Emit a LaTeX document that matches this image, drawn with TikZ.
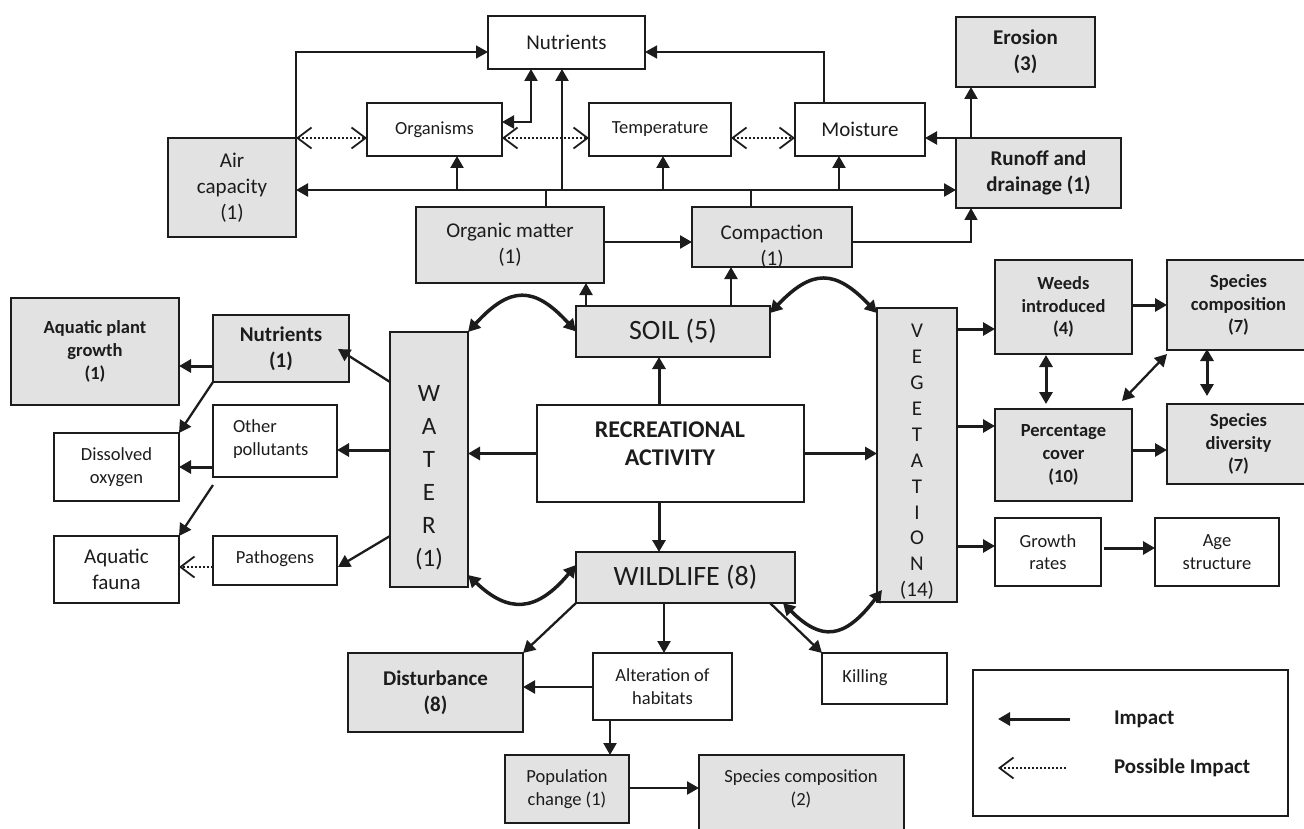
\documentclass[tikz,border=0pt]{standalone}
\usepackage{fontspec}
\setmainfont{Carlito}
\usetikzlibrary{arrows.meta,calc}
\definecolor{gfill}{RGB}{226,226,226}
\definecolor{ink}{RGB}{28,28,28}
\newcommand\myfs[2]{\fontsize{#1}{#2}\selectfont}
\begin{document}
\begin{tikzpicture}[x=1pt,y=-1pt,
  box/.style={draw=ink, line width=1.8pt, inner sep=0pt, outer sep=0pt, align=center, anchor=north west, text=ink},
  gbox/.style={box, fill=gfill},
  txt/.style={inner sep=0pt, outer sep=0pt, align=center, text=ink},
  fa/.style={font=\myfs{18.5}{22.7}},
  fb/.style={font=\myfs{21}{26}},
  fab/.style={font=\myfs{18.5}{22.7}\bfseries},
  fbb/.style={font=\myfs{21}{26}\bfseries},
  thn/.style={draw=ink, line width=1.6pt},
  mid/.style={draw=ink, line width=2.3pt},
  thk/.style={draw=ink, line width=3pt},
  crv/.style={draw=ink, line width=3.5pt},
  dotln/.style={draw=ink, line width=2pt, dash pattern=on 2pt off 2pt},
  mytri/.tip={Triangle[length=12pt,width=13pt]},
  mybarb/.tip={Straight Barb[length=14pt,width=21pt,line width=1.8pt]},
]
\useasboundingbox (0,0) rectangle (1304,829);
\clip (0,0) rectangle (1304,829);

% ---------- top group ----------
\node[box,fb,minimum width=157pt,minimum height=53pt] (nutr) at (488,16) {Nutrients};
\node[box,fa,minimum width=135pt,minimum height=53pt] (org) at (367,103) {Organisms};
\node[box,fa,minimum width=142pt,minimum height=53pt] (temp) at (589,103) {Temperature};
\node[box,fb,minimum width=130pt,minimum height=53pt] (moist) at (795,103) {Moisture};
\node[gbox,fbb,minimum width=139pt,minimum height=70pt] (eros) at (956,17) {Erosion\\(3)};
\node[gbox,fbb,minimum width=165pt,minimum height=70pt] (runoff) at (956,138) {Runoff and\\drainage (1)};
\node[gbox,fb,minimum width=128pt,minimum height=99pt] (air) at (168,138) {Air\\capacity\\(1)};
\node[gbox,fb,minimum width=188pt,minimum height=76pt] (orgm) at (416,207) {Organic matter\\(1)};
\node[gbox,minimum width=160pt,minimum height=60pt] (comp) at (692,207) {};
\node[txt,fb] (compt) at (772,247) {Compaction\\(1)};

% ---------- centre ----------
\node[gbox,font=\myfs{28}{32},minimum width=194pt,minimum height=51pt] (soil) at (576,306) {SOIL (5)};
\node[box,minimum width=267pt,minimum height=97pt] (ra) at (537,405) {};
\node[txt,font=\myfs{24}{28}\bfseries] (rat) at (670,444) {RECREATIONAL\\ACTIVITY};
\node[gbox,minimum width=78pt,minimum height=255pt] (water) at (390,332) {};
\node[txt,font=\myfs{25}{33}] (watert) at (429,478) {W\\A\\T\\E\\R\\(1)};
\node[gbox,font=\myfs{28}{32},minimum width=219pt,minimum height=51pt] (wild) at (576,552) {WILDLIFE (8)};
\node[gbox,minimum width=80pt,minimum height=294pt] (veg) at (877,308) {};
\node[txt,font=\myfs{21}{25.9}] (vegt) at (917,462) {V\\E\\G\\E\\T\\A\\T\\I\\O\\N\\(14)};

% ---------- right ----------
\node[gbox,fab,minimum width=137pt,minimum height=94pt] (weeds) at (995,260) {Weeds\\introduced\\(4)};
\node[gbox,fab,minimum width=143pt,minimum height=90pt] (spc7) at (1167,260) {Species\\composition\\(7)};
\node[gbox,fab,minimum width=137pt,minimum height=92pt] (pcov) at (995,409) {Percentage\\cover\\(10)};
\node[gbox,fab,minimum width=143pt,minimum height=80pt] (spd) at (1167,404) {Species\\diversity\\(7)};
\node[box,fa,minimum width=106pt,minimum height=68pt] (grow) at (995,518) {Growth\\rates};
\node[box,fa,minimum width=124pt,minimum height=68pt] (age) at (1155,518) {Age\\structure};

% ---------- left ----------
\node[gbox,fab,minimum width=168pt,minimum height=107pt] (apg) at (11,298) {Aquatic plant\\growth\\(1)};
\node[gbox,fbb,minimum width=136pt,minimum height=67pt] (wnut) at (213,315) {Nutrients\\(1)};
\node[box,fa,minimum width=125pt,minimum height=68pt] (dox) at (54,433) {Dissolved\\oxygen};
\node[box,minimum width=124pt,minimum height=72pt] (oth) at (213,405) {};
\node[txt,fa,align=left,anchor=west] (otht) at (233,439) {Other\\pollutants};
\node[box,fb,minimum width=125pt,minimum height=67pt] (fauna) at (54,536) {Aquatic\\fauna};
\node[box,minimum width=124pt,minimum height=49pt] (path) at (213,536) {};
\node[txt,fa] (patht) at (275,559) {Pathogens};

% ---------- bottom ----------
\node[gbox,fbb,minimum width=175pt,minimum height=79pt] (dist) at (348,653) {Disturbance\\(8)};
\node[box,fa,minimum width=139pt,minimum height=67pt] (alt) at (593,653) {Alteration of\\habitats};
\node[box,minimum width=125pt,minimum height=51pt] (kill) at (822,653) {};
\node[txt,fa] (killt) at (865,678) {Killing};
\node[gbox,fa,minimum width=124pt,minimum height=68pt] (pop) at (505,755) {Population\\change (1)};
\node[gbox,minimum width=205pt,minimum height=90pt] (spc2) at (699,755) {};
\node[txt,fa] (spc2t) at (801,789) {Species composition\\(2)};

% ---------- legend ----------
\node[box,minimum width=315pt,minimum height=146pt] (legend) at (973,670) {};
\node[txt,fbb,anchor=west] (limp) at (1114,719) {Impact};
\node[txt,fbb,anchor=west] (lpos) at (1114,768) {Possible Impact};
\coordinate (la1) at (1070,719);
\coordinate (la2) at (998,719);
\coordinate (lb1) at (1066,768);
\coordinate (lb2) at (998,768);
\draw[thk,-mytri] (la1) -- (la2);
\draw[dotln,-mybarb] (lb1) -- (lb2);

% ---------- top connectors ----------
\coordinate (yA) at (0,52);
\coordinate (bus) at (0,190);
\draw[thn,-mytri] (air.north east) |- (nutr.west |- yA);
\draw[thn,-mytri] ($(moist.north west)+(29,0)$) |- (nutr.east |- yA);
\draw[mid,mytri-mytri] ($(org.north east)+(0,19)$) -| ($(nutr.south west)+(43,0)$);
\draw[mid,mytri-mytri] (air.east |- bus) -- (runoff.west |- bus);
\draw[thn] ($(orgm.north west)+(130,0)$) -- ++(0,-17);
\draw[thn] ($(comp.north west)+(59,0)$) -- ++(0,-17);
\draw[mid,-mytri] ($(org.south west)+(90,34)$) -- ($(org.south west)+(90,0)$);
\draw[mid,-mytri] ($(nutr.south west)+(74,121)$) -- ($(nutr.south west)+(74,0)$);
\draw[mid,-mytri] ($(temp.south west)+(74,34)$) -- ($(temp.south west)+(74,0)$);
\draw[mid,-mytri] ($(moist.south west)+(44,34)$) -- ($(moist.south west)+(44,0)$);
\draw[dotln,mybarb-mybarb] (air.north east) -- (org.west |- air.north east);
\draw[dotln,mybarb-mybarb] ($(org.north east)+(0,35)$) -- ($(temp.north west)+(0,35)$);
\draw[dotln,mybarb-mybarb] ($(temp.north east)+(0,35)$) -- ($(moist.north west)+(0,35)$);
\draw[mid,-mytri] (runoff.north west) -- (moist.east |- runoff.north west);
\draw[mid,-mytri] ($(runoff.north west)+(15,0)$) -- ($(eros.south west)+(15,0)$);
\draw[mid,-mytri] ($(orgm.north east)+(0,35)$) -- ($(comp.north west)+(0,35)$);
\draw[thn,-mytri] ($(comp.north east)+(0,35)$) -| ($(runoff.south west)+(15,0)$);
\draw[mid,-mytri] ($(soil.north west)+(10,0)$) -- ($(orgm.south west)+(170,0)$);
\draw[mid,-mytri] ($(soil.north west)+(155,0)$) -- ($(comp.south west)+(39,0)$);

% ---------- curved two-way arrows ----------
\draw[crv,mytri-mytri] (water.north east) .. controls +(42,-46) and +(-42,-46) .. (soil.west);
\draw[crv,mytri-mytri] ($(soil.north east)+(0,7)$) .. controls +(42,-44) and +(-42,-44) .. ($(veg.north west)+(0,5)$);
\draw[crv,mytri-mytri] ($(water.south east)+(0,-12)$) .. controls +(40,38) and +(-40,48) .. ($(wild.north west)+(0,13)$);
\draw[crv,mytri-mytri] ($(wild.south east)+(-12,0)$) .. controls +(38,38) and +(-38,50) .. ($(veg.south west)+(5,-12)$);

% ---------- recreational activity ----------
\draw[thk,-mytri] ($(ra.north west)+(122,0)$) -- ($(soil.south west)+(83,0)$);
\draw[thk,-mytri] ($(ra.south west)+(122,0)$) -- ($(wild.north west)+(83,0)$);
\draw[thk,-mytri] (ra.west) -- (water.east |- ra.west);
\draw[thk,-mytri] (ra.east) -- (veg.west |- ra.east);

% ---------- water side ----------
\draw[mid,-mytri] ($(water.north west)+(0,50)$) -- ($(wnut.north east)+(-11,34)$);
\draw[thk,-mytri] ($(water.north west)+(0,118)$) -- (oth.east |- {$(water.north west)+(0,118)$});
\draw[mid,-mytri] ($(water.north west)+(0,204)$) -- ($(path.north east)+(1,31)$);
\draw[thk,-mytri] ($(wnut.north west)+(0,51)$) -- ($(apg.north east)+(0,68)$);
\draw[mid,-mytri] (wnut.south west) -- (dox.north east);
\draw[thk,-mytri] ($(oth.north west)+(0,62)$) -- ($(dox.north east)+(0,34)$);
\draw[mid,-mytri] ($(oth.south west)+(0,8)$) -- (fauna.north east);
\draw[dotln,-mybarb] ($(path.north west)+(0,31)$) -- ($(fauna.north east)+(0,31)$);

% ---------- vegetation side ----------
\draw[thk,-mytri] ($(veg.north east)+(0,21)$) -- ($(weeds.north west)+(0,69)$);
\draw[thk,-mytri] ($(veg.north east)+(0,118)$) -- ($(pcov.north west)+(0,17)$);
\draw[thk,-mytri] ($(veg.north east)+(0,238)$) -- ($(grow.north west)+(0,28)$);
\draw[thk,-mytri] ($(weeds.north east)+(0,45)$) -- ($(spc7.north west)+(0,45)$);
\draw[thk,-mytri] ($(pcov.north east)+(0,41)$) -- ($(spd.north west)+(0,46)$);
\draw[thk,-mytri] ($(grow.north east)+(3,30)$) -- ($(age.north west)+(0,30)$);
\draw[thk,mytri-mytri] ($(weeds.south west)+(51,1)$) -- ($(pcov.north west)+(51,-5)$);
\draw[thk,mytri-mytri] ($(spc7.south west)+(40,-1)$) -- ($(spd.north west)+(40,-8)$);
\draw[mid,mytri-mytri] ($(pcov.north east)+(-10,-8)$) -- ($(spc7.south west)+(0,4)$);

% ---------- wildlife side ----------
\draw[mid,-mytri] (wild.south west) -- (dist.north east);
\draw[mid,-mytri] ($(wild.south west)+(88,0)$) -- ($(alt.north west)+(71,0)$);
\draw[mid,-mytri] ($(wild.south east)+(-25,0)$) -- (kill.north west);
\draw[mid,-mytri] ($(alt.north west)+(0,34)$) -- ($(dist.north east)+(0,34)$);
\draw[mid,-mytri] ($(alt.south west)+(17,0)$) -- ($(pop.north west)+(105,0)$);
\draw[mid,-mytri] ($(pop.north east)+(0,33)$) -- ($(spc2.north west)+(0,33)$);
\end{tikzpicture}
\end{document}
